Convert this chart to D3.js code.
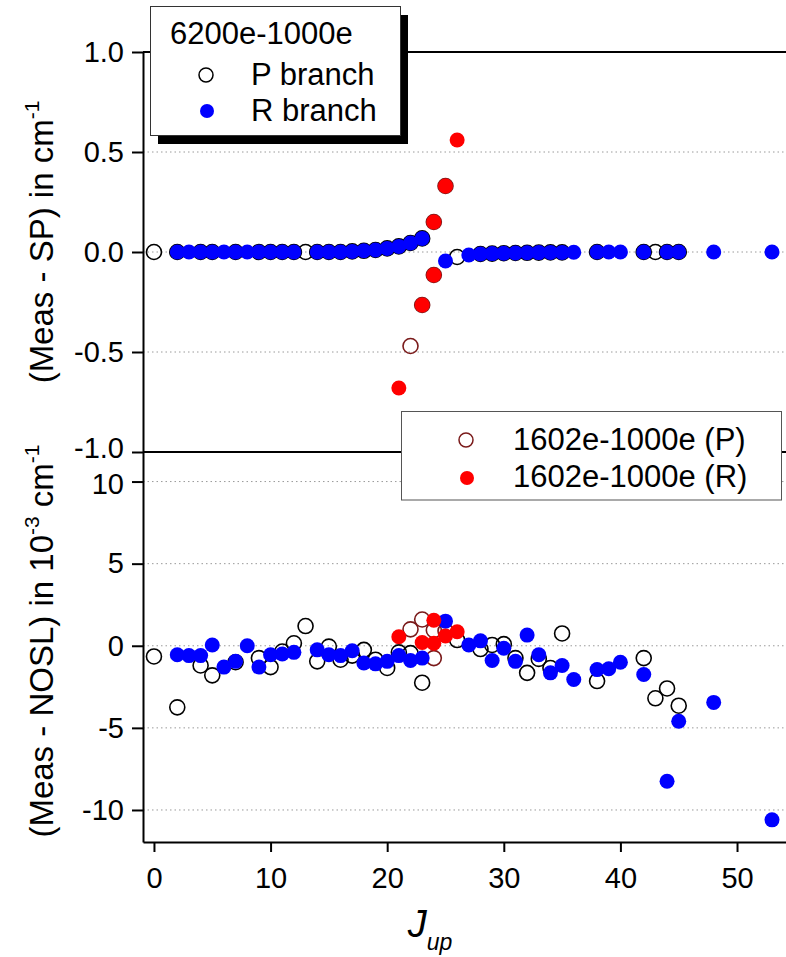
<!DOCTYPE html>
<html>
<head>
<meta charset="utf-8">
<script src="https://cdn.jsdelivr.net/npm/d3@7"></script>
<style>
body { margin: 0; background: #fff; }
text { font-family: Arial, "Liberation Sans", sans-serif; fill: #000; }
</style>
</head>
<body>
<script>
// 6200e-1000e, P branch (open black) and R branch (filled blue)
var jP6200 = [0,2,4,5,7,9,10,11,12,13,14,15,16,17,18,19,20,21,22,23,26,28,29,30,31,32,33,34,35,38,42,43,44,45];
var spP6200 = [0,0,0,0,0,0,0,0,0,0,0,0,0,0.003,0.006,0.01,0.018,0.028,0.045,0.068,-0.025,-0.01,-0.008,-0.006,-0.005,-0.004,-0.003,-0.002,-0.002,0,0,0,0,0];
var noslP6200 = [-0.65,-3.75,-1.2,-1.8,-1.0,-0.75,-1.3,-0.35,0.15,1.2,-0.95,-0.05,-0.85,-0.6,-0.25,-0.85,-1.35,-0.4,-0.45,-2.25,0.35,-0.2,0.05,0.1,-0.75,-1.65,-0.8,-1.35,0.75,-2.15,-0.75,-3.2,-2.6,-3.65];

var jR6200 = [2,3,4,5,6,7,8,9,10,11,12,14,15,16,17,18,19,20,21,22,23,25,27,28,29,30,31,32,33,34,35,36,38,39,40,42,44,45,48,53];
var spR6200 = [0,0,0,0,0,0,0,0,0,0,0,0,0,0,0.003,0.006,0.01,0.018,0.028,0.045,0.068,-0.045,-0.015,-0.01,-0.008,-0.006,-0.005,-0.004,-0.003,-0.002,-0.002,-0.001,0,0,0,0,0,0,0,0];
var noslR6200 = [-0.55,-0.6,-0.6,0.05,-1.3,-0.95,0,-1.3,-0.55,-0.5,-0.4,-0.25,-0.55,-0.6,-0.3,-1.05,-1.1,-0.95,-0.6,-0.9,-0.75,1.5,0.05,0.3,-0.9,-0.15,-0.95,0.65,-0.55,-1.65,-1.2,-2.05,-1.45,-1.4,-1.0,-1.75,-8.25,-4.6,-3.45,-10.6];

// 1602e-1000e, P (open dark red) and R (filled red)
var jP1602 = [22,23,24,24,25];
var spP1602 = [-0.47,-0.265,-0.115,0.15,0.33];
var noslP1602 = [1.0,1.6,-0.75,0.95,0.9];

var jR1602 = [21,23,24,24,25,26];
var spR1602 = [-0.68,-0.265,-0.115,0.15,0.33,0.56];
var noslR1602 = [0.55,0.2,0.15,1.55,0.6,0.85];

var topTicks = [-1.0,-0.5,0.0,0.5,1.0];
var botTicks = [-10,-5,0,5,10];
var xTicks = [0,10,20,30,40,50];

var width = 786, height = 957;
var R = 7.5;

var svg = d3.select("body").append("svg")
    .attr("width", width)
    .attr("height", height);

var x = d3.scaleLinear().domain([-0.94, 54.2]).range([143, 786]);
var yTop = d3.scaleLinear().domain([-1, 1]).range([452, 52]);
var yBot = d3.scaleLinear().domain([-11.95, 11.8]).range([842, 452]);

function zip(js, vs) {
    return js.map(function (j, i) { return {j: j, v: vs[i]}; });
}

// dotted grid lines
function grid(y, vals) {
    svg.append("g").selectAll("line")
        .data(vals)
        .enter()
        .append("line")
        .attr("x1", 143).attr("x2", width)
        .attr("y1", function (d) { return y(d); })
        .attr("y2", function (d) { return y(d); })
        .attr("stroke", "#9a9a9a")
        .attr("stroke-width", 1)
        .attr("stroke-dasharray", "1.5,3");
}
grid(yTop, [-0.5, 0, 0.5]);
grid(yBot, [-10, -5, 0, 5, 10]);

// frame lines: top of upper panel and the divider
svg.append("line").attr("x1", 143).attr("x2", width).attr("y1", yTop(1)).attr("y2", yTop(1))
    .attr("stroke", "#000").attr("stroke-width", 2);
svg.append("line").attr("x1", 143).attr("x2", width).attr("y1", yTop(-1)).attr("y2", yTop(-1))
    .attr("stroke", "#000").attr("stroke-width", 2);

function styleAxis(g) {
    g.selectAll("path").attr("stroke", "#000").attr("stroke-width", 2);
    g.selectAll("line").attr("stroke", "#000").attr("stroke-width", 2);
    g.selectAll("text").style("font-size", "29px").attr("fill", "#000");
}

var axTop = svg.append("g")
    .attr("transform", "translate(143,0)")
    .call(d3.axisLeft(yTop).tickValues(topTicks).tickSize(11).tickSizeOuter(0).tickPadding(8)
        .tickFormat(function (d) { return d.toFixed(1); }))
    .call(styleAxis);

var axBot = svg.append("g")
    .attr("transform", "translate(143,0)")
    .call(d3.axisLeft(yBot).tickValues(botTicks).tickSize(11).tickSizeOuter(0).tickPadding(8)
        .tickFormat(function (d) { return String(d); }))
    .call(styleAxis);

// the -1.0 and 10 labels sit close together at the panel join
axTop.selectAll(".tick text").filter(function (d) { return d === -1; }).attr("y", -4);
axBot.selectAll(".tick text").filter(function (d) { return d === 10; }).attr("y", 3);

svg.append("g")
    .attr("transform", "translate(0,842)")
    .call(d3.axisBottom(x).tickValues(xTicks).tickSize(10).tickSizeOuter(0).tickPadding(15))
    .call(styleAxis);

// markers
function openDots(y, data, color) {
    svg.append("g").selectAll("circle")
        .data(data)
        .enter()
        .append("circle")
        .attr("cx", function (d) { return x(d.j); })
        .attr("cy", function (d) { return y(d.v); })
        .attr("r", R)
        .attr("fill", "none")
        .attr("stroke", color)
        .attr("stroke-width", 1.6);
}
function filledDots(y, data, color) {
    svg.append("g").selectAll("circle")
        .data(data)
        .enter()
        .append("circle")
        .attr("cx", function (d) { return x(d.j); })
        .attr("cy", function (d) { return y(d.v); })
        .attr("r", R)
        .attr("fill", color);
}

openDots(yTop, zip(jP6200, spP6200), "#000");
openDots(yTop, zip(jP1602, spP1602), "#7a1a1a");
filledDots(yTop, zip(jR6200, spR6200), "#0000ff");
filledDots(yTop, zip(jR1602, spR1602), "#ff0000");

openDots(yBot, zip(jP6200, noslP6200), "#000");
openDots(yBot, zip(jP1602, noslP1602), "#7a1a1a");
filledDots(yBot, zip(jR6200, noslR6200), "#0000ff");
filledDots(yBot, zip(jR1602, noslR1602), "#ff0000");

// legend 1 with drop shadow
var lg1 = svg.append("g");
lg1.append("rect").attr("x", 158).attr("y", 15).attr("width", 250).attr("height", 129).attr("fill", "#000");
lg1.append("rect").attr("x", 150.5).attr("y", 6.5).attr("width", 250).attr("height", 129)
    .attr("fill", "#fff").attr("stroke", "#333").attr("stroke-width", 1);
lg1.append("text").attr("x", 170).attr("y", 44).style("font-size", "31px").text("6200e-1000e");
lg1.append("circle").attr("cx", 206).attr("cy", 75).attr("r", 7).attr("fill", "none")
    .attr("stroke", "#000").attr("stroke-width", 1.5);
lg1.append("text").attr("x", 251).attr("y", 85).style("font-size", "31px").text("P branch");
lg1.append("circle").attr("cx", 207).attr("cy", 111).attr("r", 7).attr("fill", "#0000ff");
lg1.append("text").attr("x", 251).attr("y", 121).style("font-size", "31px").text("R branch");

// legend 2
var lg2 = svg.append("g");
lg2.append("rect").attr("x", 401.5).attr("y", 411.5).attr("width", 380).attr("height", 88.5)
    .attr("fill", "#fff").attr("stroke", "#555").attr("stroke-width", 1);
lg2.append("circle").attr("cx", 466).attr("cy", 440).attr("r", 7).attr("fill", "none")
    .attr("stroke", "#7a1a1a").attr("stroke-width", 1.5);
lg2.append("text").attr("x", 513).attr("y", 450).style("font-size", "31px").text("1602e-1000e (P)");
lg2.append("circle").attr("cx", 467).attr("cy", 478).attr("r", 7).attr("fill", "#ff0000");
lg2.append("text").attr("x", 513).attr("y", 487).style("font-size", "31px").text("1602e-1000e (R)");

// y titles
var t1 = svg.append("text")
    .attr("transform", "translate(53,242) rotate(-90)")
    .attr("text-anchor", "middle")
    .style("font-size", "33px");
t1.append("tspan").text("(Meas - SP) in cm");
t1.append("tspan").attr("dy", -14).style("font-size", "21px").text("-1");

var t2 = svg.append("text")
    .attr("transform", "translate(53,641) rotate(-90)")
    .attr("text-anchor", "middle")
    .style("font-size", "33px");
t2.append("tspan").text("(Meas - NOSL) in 10");
t2.append("tspan").attr("dy", -14).style("font-size", "21px").text("-3");
t2.append("tspan").attr("dy", 14).text(" cm");
t2.append("tspan").attr("dy", -14).style("font-size", "21px").text("-1");

// x title
var tx = svg.append("text")
    .attr("x", 430).attr("y", 937)
    .attr("text-anchor", "middle")
    .style("font-style", "italic");
tx.append("tspan").style("font-size", "38px").text("J");
tx.append("tspan").attr("dy", 13).style("font-size", "23px").text("up");
</script>
</body>
</html>
